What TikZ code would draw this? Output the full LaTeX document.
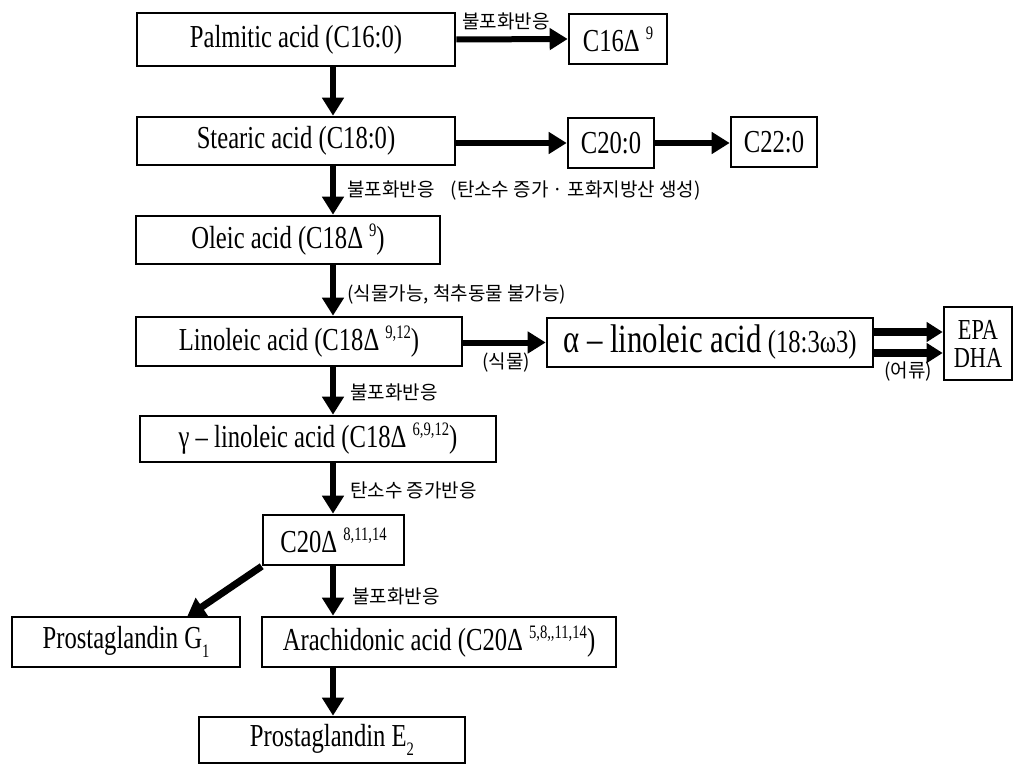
\documentclass[tikz,border=0pt]{standalone}
\usepackage{fontspec}
\setmainfont{Liberation Serif}
\newfontfamily\boxfont[FakeStretch=0.77]{Liberation Serif}
\newfontfamily\kofont{Noto Sans CJK KR}
\usetikzlibrary{arrows.meta,calc}
\newcommand\sups[1]{\hspace{6pt}\raisebox{0.38em}{\fontsize{19}{19}\selectfont #1}}
\newcommand\subs[1]{\raisebox{-0.3em}{\fontsize{19}{19}\selectfont #1}}
\begin{document}
\begin{tikzpicture}[x=1pt,y=-1pt,
  box/.style={draw, line width=2.6pt, inner sep=0pt, fill=white,
    font=\boxfont\fontsize{32}{36}\selectfont},
  arr/.style={line width=6pt, -{Triangle[length=18pt,width=21pt]}},
  arrb/.style={line width=7.5pt, -{Triangle[length=16pt,width=19pt]}},
  lbl/.style={font=\kofont\fontsize{19}{21}\selectfont, inner sep=0pt}]
\fill[white] (0,0) rectangle (1014,765);
\useasboundingbox (0,0) rectangle (1014,765);
% boxes
\node[box, minimum width=318pt, minimum height=53pt] (palm) at (296,39.5) {Palmitic acid (C16:0)};
\node[box, minimum width=98pt, minimum height=50pt] (c16) at (618,39) {C16Δ\sups{9}};
\node[box, minimum width=318pt, minimum height=48pt] (stear) at (296,141) {Stearic acid (C18:0)};
\node[box, minimum width=86pt, minimum height=50pt] (c20) at (611,143) {C20:0};
\node[box, minimum width=86pt, minimum height=50pt] (c22) at (774,142) {C22:0};
\node[box, minimum width=304pt, minimum height=48pt] (ole) at (288,240) {Oleic acid (C18Δ\sups{9})};
\node[box, minimum width=326pt, minimum height=49pt] (lino) at (299,341.5) {Linoleic acid (C18Δ\sups{9,12})};
\node[box, minimum width=326pt, minimum height=49pt] (alpha) at (710,342.5) {{\fontsize{40}{40}\selectfont α – linoleic acid} (18:3ω3)};
\node[box, minimum width=68pt, minimum height=73pt, align=center, font=\boxfont\fontsize{29}{28}\selectfont] (epa) at (978,343.5) {EPA\\DHA};
\node[box, minimum width=356pt, minimum height=46pt] (gam) at (318,439) {γ – linoleic acid (C18Δ\sups{6,9,12})};
\node[box, minimum width=141pt, minimum height=50pt] (c20d) at (333.5,540) {C20Δ\sups{8,11,14}};
\node[box, minimum width=228pt, minimum height=50pt] (pgg) at (126,642) {Prostaglandin G\subs{1}};
\node[box, minimum width=354pt, minimum height=50pt] (ara) at (439,642) {Arachidonic acid (C20Δ\sups{5,8,,11,14})};
\node[box, minimum width=266pt, minimum height=46pt] (pge) at (332,740) {Prostaglandin E\subs{2}};
% coordinates
\coordinate (sp) at (333,0);
\coordinate (ya) at (0,332);
\coordinate (yb) at (0,353);
\coordinate (g1top) at (187,617);
% arrows
\draw[arr] (palm.east) -- (c16.west);
\draw[arr] (stear.east |- c20) -- (c20.west);
\draw[arr] (c20.east) -- (c22.west |- c20);
\draw[arr] (palm.south -| sp) -- (stear.north -| sp);
\draw[arr] (stear.south -| sp) -- (ole.north -| sp);
\draw[arr] (ole.south -| sp) -- (lino.north -| sp);
\draw[arr] (lino.south -| sp) -- (gam.north -| sp);
\draw[arr] (gam.south -| sp) -- (c20d.north -| sp);
\draw[arr] (c20d.south -| sp) -- (ara.north -| sp);
\draw[arr] (ara.south -| sp) -- (pge.north -| sp);
\draw[arr] (lino.east |- alpha) -- (alpha.west);
\draw[arrb] (alpha.east |- ya) -- (epa.west |- ya);
\draw[arrb] (alpha.east |- yb) -- (epa.west |- yb);
\draw[line width=7pt, -{Triangle[length=18pt,width=21pt]}] (c20d.south west) -- (g1top);
% labels
\node[lbl] (l1) at (506,21) {불포화반응};
\node[lbl, anchor=west] (l2) at (347,191) {불포화반응\hspace{16pt}(탄소수 증가 · 포화지방산 생성)};
\node[lbl, anchor=west] (l3) at (347,294) {(식물가능, 척추동물 불가능)};
\node[lbl] (l4) at (506,363) {(식물)};
\node[lbl] (l5) at (908,372) {(어류)};
\node[lbl, anchor=west] (l6) at (350,392) {불포화반응};
\node[lbl, anchor=west] (l7) at (350,490) {탄소수 증가반응};
\node[lbl, anchor=west] (l8) at (352,596) {불포화반응};
\end{tikzpicture}
\end{document}
